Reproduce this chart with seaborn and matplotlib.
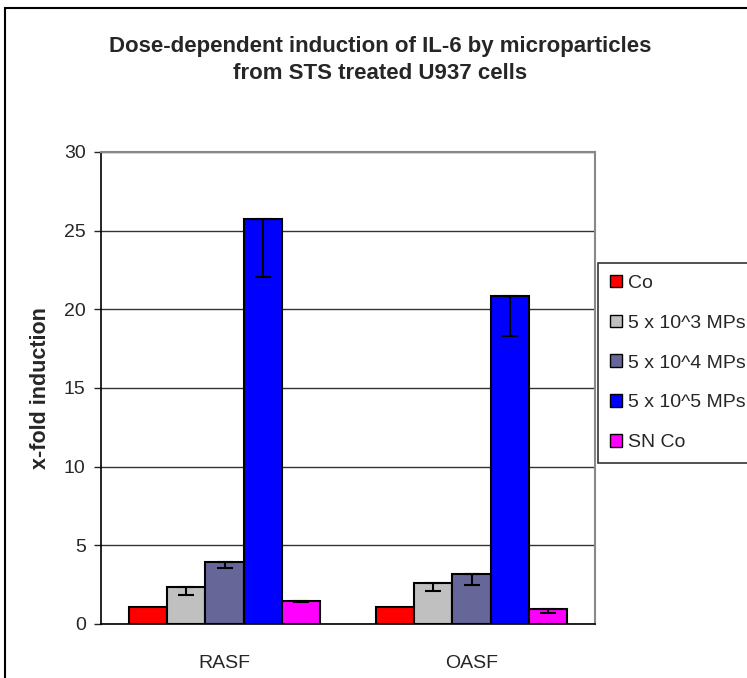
import numpy as np
import pandas as pd
import matplotlib
matplotlib.use('Agg')
import matplotlib.pyplot as plt
import matplotlib.patches as mpatches
import seaborn as sns

# Values
cells = ['RASF', 'OASF']
treatments = ['Co', '5 x 10^3 MPs', '5 x 10^4 MPs', '5 x 10^5 MPs', 'SN Co']
rasf_values = [1.05, 2.37, 3.95, 25.75, 1.44]
oasf_values = [1.05, 2.62, 3.15, 20.85, 0.93]
rasf_errors = [0.0, 0.52, 0.40, 3.7, 0.05]
oasf_errors = [0.0, 0.50, 0.68, 2.55, 0.25]
colors = ['#FF0000', '#C0C0C0', '#666699', '#0000FF', '#FF00FF']

data = pd.DataFrame({
    'cell': np.repeat(cells, len(treatments)),
    'treatment': treatments * len(cells),
    'value': rasf_values + oasf_values,
    'err': rasf_errors + oasf_errors,
})

sns.set_style('white')
plt.rcParams['font.family'] = ['Liberation Sans', 'DejaVu Sans']

fig = plt.figure(figsize=(7.47, 6.78), dpi=100)
ax = fig.add_axes([101 / 747, 1 - 624 / 678, 494 / 747, 472 / 678])

palette = dict(zip(treatments, colors))
sns.barplot(data=data, x='cell', y='value', hue='treatment', order=cells,
            hue_order=treatments, palette=palette, width=0.77, errorbar=None,
            edgecolor='black', linewidth=1.5, saturation=1, ax=ax, legend=False,
            zorder=3)

# downward-only error bars, placed on the bars seaborn drew
for trt, cont in zip(treatments, ax.containers):
    sub = data[data['treatment'] == trt].set_index('cell').loc[cells]
    xs = [b.get_x() + b.get_width() / 2 for b in cont]
    ys = [b.get_height() for b in cont]
    errs = sub['err'].values
    mask = errs > 0
    ax.errorbar(np.array(xs)[mask], np.array(ys)[mask],
                yerr=[errs[mask], np.zeros(mask.sum())], fmt='none',
                ecolor='black', elinewidth=1.5, capsize=6, capthick=1.5,
                zorder=4)

ax.set_ylim(0, 30)
ax.set_xlim(-0.5, 1.5)
ax.set_yticks(range(0, 31, 5))
ax.yaxis.grid(True, color='#333333', linewidth=1, zorder=0)
ax.set_axisbelow(True)

ax.set_xticks([0, 1])
ax.set_xticklabels(cells)
ax.set_xticks([-0.5, 0.5, 1.5], minor=True)
ax.tick_params(axis='x', which='major', length=0, pad=22, labelsize=14)
ax.tick_params(axis='x', which='minor', length=5, direction='out', width=1)
ax.tick_params(axis='y', length=5, direction='out', width=1, pad=6, labelsize=14, left=True)
ax.set_xlabel('')
ax.set_ylabel('x-fold induction', fontsize=15.5, fontweight='bold')
ax.yaxis.set_label_coords(-0.101, 0.5)

for side in ['left', 'bottom']:
    ax.spines[side].set_color('black')
    ax.spines[side].set_linewidth(1.2)
for side in ['top', 'right']:
    ax.spines[side].set_color('#888888')
    ax.spines[side].set_linewidth(1.5)

fig.text(380 / 747, 1 - 60 / 678,
         'Dose-dependent induction of IL-6 by microparticles\nfrom STS treated U937 cells',
         ha='center', va='center', fontsize=16, fontweight='bold', linespacing=1.35)

handles = [mpatches.Patch(facecolor=c, edgecolor='black', linewidth=1) for c in colors]
leg = fig.legend(handles, treatments, loc='upper left',
                 bbox_to_anchor=(598 / 747, 1 - 263 / 678), fontsize=14,
                 frameon=True, fancybox=False, edgecolor='black',
                 handlelength=0.62, handleheight=0.62, handletextpad=0.3,
                 labelspacing=1.17, borderpad=0.6, borderaxespad=0)
leg.get_frame().set_linewidth(1.2)

# outer chart border (cut off on the right and bottom like the reference)
fig.patches.append(mpatches.Rectangle((5 / 747, -0.5), 2, 1.5 - 8 / 678,
                                      transform=fig.transFigure, fill=False,
                                      edgecolor='black', linewidth=1.5))

fig.savefig('out.png', dpi=100)
